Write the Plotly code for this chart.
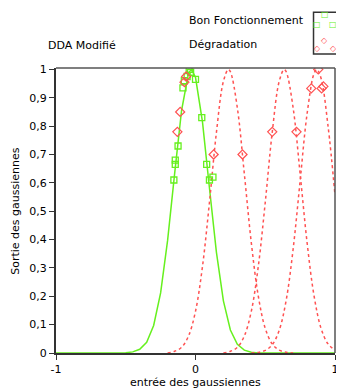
import plotly.graph_objects as go

# ---- data ----
# Bon Fonctionnement : gaussian curve (solid green)
green_curve_x = [-1.0, -0.5, -0.45, -0.4, -0.35, -0.3, -0.25, -0.2, -0.15, -0.1, -0.05, -0.03,
                 0.0, 0.05, 0.1, 0.15, 0.2, 0.25, 0.3, 0.35, 0.4, 0.45, 1.0]
green_curve_y = [0, 0.001, 0.004, 0.013, 0.038, 0.097, 0.212, 0.397, 0.631, 0.855, 0.987, 1.0,
                 0.972, 0.815, 0.582, 0.355, 0.184, 0.081, 0.031, 0.010, 0.003, 0, 0]

# Bon Fonctionnement : sample points (green squares)
green_pts_x = [-0.045, -0.035, -0.06, -0.08, -0.09, 0.0, 0.045, -0.125, -0.145, -0.145, -0.155, 0.08, 0.10, 0.125]
green_pts_y = [1.0, 0.99, 0.975, 0.96, 0.935, 0.965, 0.83, 0.73, 0.68, 0.665, 0.61, 0.665, 0.61, 0.62]

# Dégradation : gaussian curves (dashed red)
red1_x = [-0.2, -0.15, -0.1, -0.05, 0.0, 0.05, 0.1, 0.15, 0.2, 0.235, 0.25, 0.3, 0.35, 0.4, 0.45,
          0.5, 0.55, 0.6, 0.65, 0.7]
red1_y = [0, 0.006, 0.020, 0.060, 0.147, 0.305, 0.531, 0.778, 0.958, 1.0, 0.992, 0.864, 0.632, 0.389,
          0.201, 0.087, 0.032, 0.010, 0.003, 0]
red2_x = [0.2, 0.25, 0.3, 0.35, 0.4, 0.45, 0.5, 0.55, 0.6, 0.635, 0.65, 0.7, 0.75, 0.8, 0.85, 0.9, 0.95, 1.0]
red2_y = [0, 0.006, 0.020, 0.060, 0.147, 0.305, 0.531, 0.778, 0.958, 1.0, 0.992, 0.864, 0.632, 0.389,
          0.201, 0.087, 0.032, 0.010]
red3_x = [0.4, 0.45, 0.5, 0.55, 0.6, 0.65, 0.7, 0.75, 0.8, 0.85, 0.87, 0.9, 0.95, 1.0]
red3_y = [0, 0.002, 0.009, 0.029, 0.080, 0.186, 0.367, 0.607, 0.844, 0.986, 1.0, 0.969, 0.801, 0.556]

# Dégradation : sample points (red diamonds)
red_pts_x = [-0.067, -0.079, -0.11, -0.13, 0.13, 0.337, 0.55, 0.724, 0.83, 0.904, 0.917, 0.88]
red_pts_y = [0.975, 0.955, 0.85, 0.78, 0.70, 0.70, 0.78, 0.78, 0.933, 0.933, 0.94, 1.0]

y_ticks = [0, 0.1, 0.2, 0.3, 0.4, 0.5, 0.6, 0.7, 0.8, 0.9, 1]
x_ticks = [-1, 0, 1]

GREEN = "#66f01e"
RED = "#ff5252"
FONT = "DejaVu Sans"

fig = go.Figure()

fig.add_trace(go.Scatter(x=green_curve_x, y=green_curve_y, mode="lines",
                         line=dict(color=GREEN, width=1.5), showlegend=False, hoverinfo="skip"))
for rx, ry in [(red1_x, red1_y), (red2_x, red2_y), (red3_x, red3_y)]:
    fig.add_trace(go.Scatter(x=rx, y=ry, mode="lines", line_shape="spline",
                             line=dict(color=RED, width=1.5, dash="3px,3px"),
                             showlegend=False, hoverinfo="skip"))
fig.add_trace(go.Scatter(x=green_pts_x, y=green_pts_y, mode="markers",
                         marker=dict(symbol="square-open", size=6, color=GREEN, line=dict(width=1.3)),
                         showlegend=False))
fig.add_trace(go.Scatter(x=red_pts_x, y=red_pts_y, mode="markers",
                         marker=dict(symbol="diamond-open", size=7, color=RED, line=dict(width=1.2)),
                         showlegend=False))

# the page body adds an 8px margin, so the figure is 8px smaller than the window
fig.update_layout(
    width=336, height=383,
    margin=dict(l=48, r=9, t=60, b=38, autoexpand=False),
    paper_bgcolor="white", plot_bgcolor="white",
    separators=", ",
    font=dict(family=FONT, size=11, color="black"),
    showlegend=False,
)
fig.update_xaxes(range=[-1, 1], tickvals=x_ticks, ticktext=["-1", "0", "1"],
                 ticks="outside", ticklen=5, tickcolor="#333", automargin=False,
                 showgrid=False, zeroline=False,
                 showline=True, linecolor="#333", linewidth=2, mirror=False)
fig.update_yaxes(range=[0, 1.005], tickvals=y_ticks, automargin=False,
                 ticks="outside", ticklen=5, tickcolor="#333",
                 showgrid=False, zeroline=False,
                 showline=True, linecolor="#333", linewidth=2, mirror=False)

# axis titles
fig.add_annotation(text="entrée des gaussiennes", xref="paper", yref="paper", x=0.5, y=-0.102,
                   xanchor="center", yanchor="middle", showarrow=False, font=dict(size=11))
fig.add_annotation(text="Sortie des gaussiennes", xref="paper", yref="paper", x=-0.146, y=0.5,
                   xanchor="center", yanchor="middle", textangle=-90, showarrow=False,
                   font=dict(size=11))

# frame on top / right (grey)
fig.add_shape(type="line", xref="paper", yref="paper", x0=0, x1=1, y0=1, y1=1,
              line=dict(color="#555", width=1.5))
fig.add_shape(type="line", xref="paper", yref="paper", x0=1, x1=1, y0=0, y1=1,
              line=dict(color="#555", width=1.5))

# title and legend labels
fig.add_annotation(text="DDA Modifié", xref="paper", yref="paper", x=-0.036, y=1.078,
                   xanchor="left", yanchor="middle", showarrow=False, font=dict(size=11))
fig.add_annotation(text="Bon Fonctionnement", xref="paper", yref="paper", x=0.4695, y=1.168,
                   xanchor="left", yanchor="middle", showarrow=False, font=dict(size=11))
fig.add_annotation(text="Dégradation", xref="paper", yref="paper", x=0.4695, y=1.081,
                   xanchor="left", yanchor="middle", showarrow=False, font=dict(size=11))

# legend box
fig.add_shape(type="rect", xref="paper", yref="paper", x0=0.923, x1=1.06, y0=1.049, y1=1.196,
              line=dict(color="#333", width=1.5), fillcolor="white")
for gx, gy in [(0.964, 1.186), (0.936, 1.154), (0.993, 1.154), (1.018, 1.186)]:
    fig.add_annotation(text="□", xref="paper", yref="paper", x=gx, y=gy, showarrow=False,
                       font=dict(size=8, color=GREEN), xanchor="center", yanchor="middle")
for rx, ry in [(0.964, 1.098), (0.936, 1.070), (0.993, 1.070), (1.018, 1.098)]:
    fig.add_annotation(text="◇", xref="paper", yref="paper", x=rx, y=ry, showarrow=False,
                       font=dict(size=8, color=RED), xanchor="center", yanchor="middle")

fig.write_html("out.html")
